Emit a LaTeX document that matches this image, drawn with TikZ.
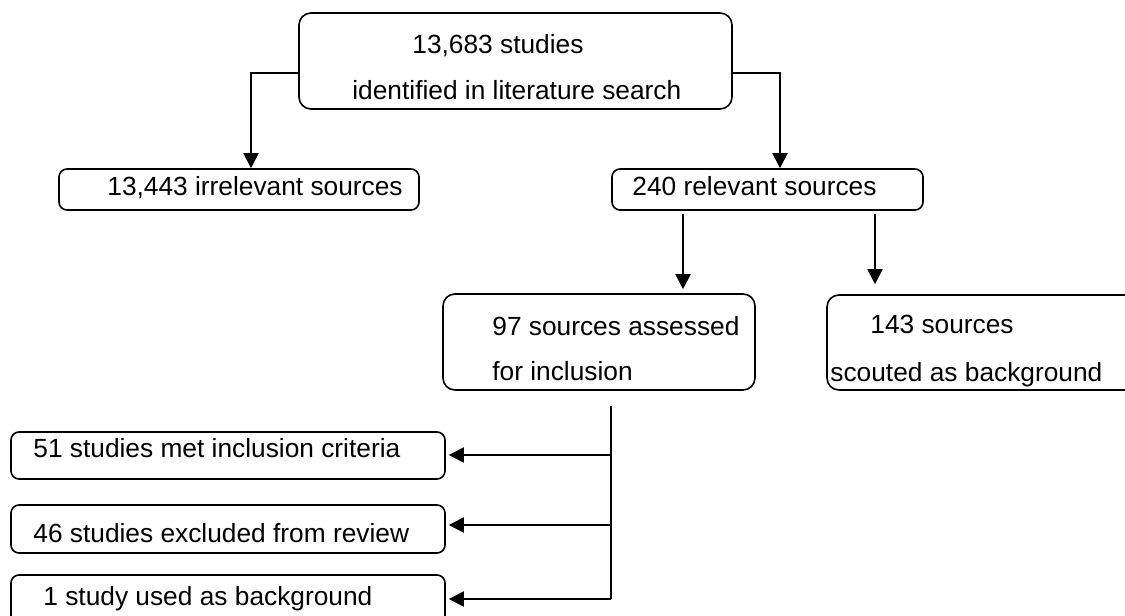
\documentclass[tikz,border=0pt]{standalone}
\usepackage{fontspec}
\setmainfont{Liberation Sans}
\usetikzlibrary{arrows.meta,fit}
\tikzset{
  box/.style={draw=black, line width=0.8pt, rounded corners=4pt, inner sep=0pt},
  bigbox/.style={box, rounded corners=6pt},
  txt/.style={anchor=base west, inner sep=0pt, font=\fontsize{13.15pt}{16pt}\selectfont},
  link/.style={line width=1pt},
  arr/.style={link, -{Triangle[width=7.5pt,length=7.5pt]}},
}
\begin{document}
\begin{tikzpicture}[x=0.5pt,y=-0.5pt]
\useasboundingbox (0,0) rectangle (1125,616);
\clip (0,0) rectangle (1125,616);
% boxes
\node[bigbox, fit={(299,13) (732,109)}] (top) {};
\node[box, fit={(59,169) (419,210)}] (irr) {};
\node[box, fit={(612,169) (923,210)}] (rel) {};
\node[bigbox, fit={(443,294) (755,390)}] (b97) {};
\node[bigbox, fit={(827,295) (1140,390)}] (b143) {};
\node[box, fit={(11,432) (445,479)}] (b51) {};
\node[box, fit={(11,505) (445,553)}] (b46) {};
\node[box, fit={(11,575) (445,650)}] (b1) {};
% texts
\node[txt] (t1a) at (412,53) {13,683 studies};
\node[txt] (t1b) at (352,99) {identified in literature search};
\node[txt] (tirr) at (107,195) {13,443 irrelevant sources};
\node[txt] (trel) at (632,195) {240 relevant sources};
\node[txt] (t97a) at (492,335) {97 sources assessed};
\node[txt] (t97b) at (492,380) {for inclusion};
\node[txt] (t143a) at (870,333) {143 sources};
\node[txt] (t143b) at (830,381) {scouted as background};
\node[txt] (t51) at (33,457) {51 studies met inclusion criteria};
\node[txt] (t46) at (33,542) {46 studies excluded from review};
\node[txt] (t1) at (43,605) {1 study used as background};
% connector points
\coordinate (ja) at (251,73);
\coordinate (jb) at (780,73);
\coordinate (ra) at (683,214);
\coordinate (rb) at (875,214);
\coordinate (v0) at (611,406);
\coordinate (v1) at (611,455);
\coordinate (v2) at (611,525);
\coordinate (v3) at (611,599);
% connectors
\draw[arr] (top.west |- ja) -| (ja |- irr.north);
\draw[arr] (top.east |- jb) -| (jb |- rel.north);
\draw[arr, shorten >=2pt] (ra) -- (ra |- b97.north);
\draw[arr, shorten >=5pt] (rb) -- (rb |- b143.north);
\draw[link] (v0) -- (v3);
\draw[arr, shorten >=1.5pt] (v1) -- (v1 -| b51.east);
\draw[arr, shorten >=1.5pt] (v2) -- (v2 -| b46.east);
\draw[arr, shorten >=1.5pt] (v3) -- (v3 -| b1.east);
\end{tikzpicture}
\end{document}
